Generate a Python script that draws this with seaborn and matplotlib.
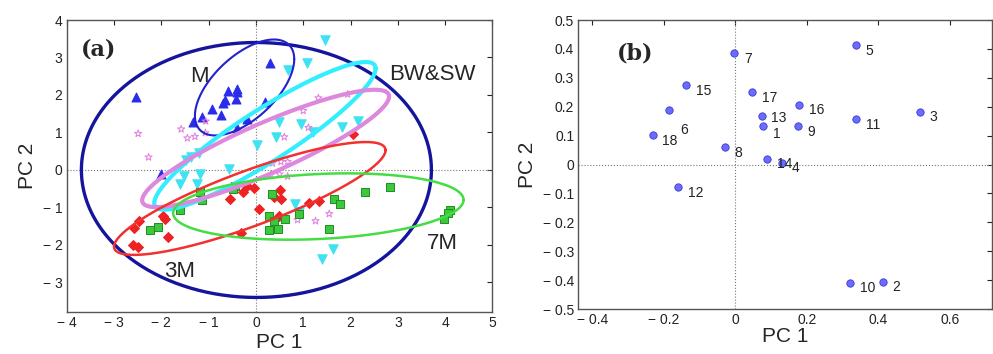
import numpy as np
import pandas as pd
import matplotlib
matplotlib.use("Agg")
import matplotlib.pyplot as plt
import seaborn as sns

# ---------------- Panel (a) data: PCA scores per group ----------------
m_x = [-2.53, 0.30, -0.59, -0.39, -0.41, -0.65, -0.69, -0.42, -0.93, -0.73, -1.13, -1.33, -0.18, 0.19, -0.39, -2.01]
m_y = [1.95, 2.85, 2.11, 2.17, 2.08, 1.86, 1.79, 1.89, 1.63, 1.46, 1.42, 1.28, 1.37, 1.82, 1.12, -0.11]

bw_x = [1.45, 1.08, 0.67, 0.48, 0.95, 1.20, 0.42, 0.02, 1.83, 2.15, -1.20, -1.38, -1.48, -0.57, -1.53, -1.18, -1.61, -1.25, 0.82, 0.92, 1.63, 1.40]
bw_y = [3.46, 2.86, 2.66, 1.28, 1.22, 1.02, 0.87, 0.66, 1.15, 1.31, 0.46, 0.34, 0.27, 0.02, -0.16, -0.12, -0.37, -0.37, -0.90, -1.11, -2.11, -2.37]

sw_x = [-2.49, -1.58, -1.06, -1.45, -1.29, -1.07, -2.27, 1.32, 1.00, 1.11, 0.60, 1.94, 0.35, 0.53, 0.67, 0.31, 0.50, 0.67, 1.55, 1.26, 0.88]
sw_y = [0.97, 1.09, 1.30, 0.85, 0.89, 0.99, 0.34, 1.92, 1.58, 1.13, 0.88, 2.02, 0.18, 0.22, 0.22, -0.13, -0.11, -0.17, -1.17, -1.36, -1.33]

m3_x = [-2.47, -2.58, -1.96, -1.92, -1.85, -2.60, -2.49, -0.18, -0.04, -0.27, -0.54, 0.06, -0.32, 0.51, 0.39, 0.53, 0.49, 1.13, 1.34, 2.05]
m3_y = [-1.36, -1.55, -1.24, -1.30, -1.80, -1.99, -2.05, -0.42, -0.49, -0.58, -0.77, -1.05, -1.68, -0.54, -0.71, -0.77, -1.22, -0.87, -0.84, 0.95]

m7_x = [-0.44, -0.49, -1.18, -1.13, -1.60, -2.25, -2.07, 0.35, 0.27, 0.39, 0.61, 0.92, 0.27, 0.47, 1.66, 1.78, 1.54, 2.31, 2.84, 4.11, 4.06, 3.97]
m7_y = [-0.42, -0.51, -0.58, -0.80, -1.08, -1.59, -1.52, -0.63, -1.22, -1.37, -1.31, -1.18, -1.60, -1.58, -0.78, -0.91, -1.58, -0.60, -0.46, -1.06, -1.15, -1.31]

# confidence ellipses: centre x, centre y, half-width, half-height, correlation
ell_names = ["all", "M", "BW&SW", "SW", "3M", "7M"]
ell_cx = [0.01, -0.24, 0.19, 0.205, -0.13, 1.32]
ell_cy = [0.00, 2.20, 0.91, 0.575, -0.76, -0.975]
ell_hx = [3.70, 1.05, 2.34, 2.61, 2.87, 3.07]
ell_hy = [3.40, 1.28, 1.97, 1.565, 1.505, 0.885]
ell_r = [0.0, 0.59, 0.911, 0.885, 0.854, 0.20]

xa_ticks = [-4, -3, -2, -1, 0, 1, 2, 3, 4, 5]
xa_labels = ["\u2212 4", "\u2212 3", "\u2212 2", "\u2212 1", "0", "1", "2", "3", "4", "5"]
ya_ticks = [-3, -2, -1, 0, 1, 2, 3, 4]
ya_labels = ["\u2212 3", "\u2212 2", "\u2212 1", "0", "1", "2", "3", "4"]

# ---------------- Panel (b) data: loadings ----------------
b_labels = ["1", "2", "3", "4", "5", "6", "7", "8", "9", "10", "11", "12", "13", "14", "15", "16", "17", "18"]
b_x = [0.077, 0.412, 0.517, 0.131, 0.337, -0.185, -0.003, -0.029, 0.175, 0.321, 0.337, -0.159, 0.074, 0.090, -0.138, 0.178, 0.048, -0.231]
b_y = [0.133, -0.405, 0.182, 0.006, 0.413, 0.1875, 0.386, 0.060, 0.133, -0.409, 0.156, -0.079, 0.168, 0.020, 0.274, 0.207, 0.251, 0.101]

xb_ticks = [-0.4, -0.2, 0, 0.2, 0.4, 0.6]
xb_labels = ["\u2212 0.4", "\u2212 0.2", "0", "0.2", "0.4", "0.6"]
yb_ticks = [-0.5, -0.4, -0.3, -0.2, -0.1, 0, 0.1, 0.2, 0.3, 0.4, 0.5]
yb_labels = ["\u2212 0.5", "\u2212 0.4", "\u2212 0.3", "\u2212 0.2", "\u2212 0.1", "0", "0.1", "0.2", "0.3", "0.4", "0.5"]

# ---------------- style ----------------
sns.set_style("white")
plt.rcParams["font.family"] = ["Liberation Sans", "DejaVu Sans"]
plt.rcParams["axes.edgecolor"] = "#555555"
plt.rcParams["axes.linewidth"] = 1.0

fig = plt.figure(figsize=(9.93, 3.54), dpi=100)
axa = fig.add_axes([0.0672, 0.1195, 0.4287, 0.824])
axb = fig.add_axes([0.5824, 0.127, 0.4166, 0.8165])

# ---------------- Panel (a) ----------------
axa.axhline(0, color="#777777", lw=0.8, ls=":", zorder=1)
axa.axvline(0, color="#777777", lw=0.8, ls=":", zorder=1)

groups = [
    ("M", m_x, m_y, "^", "#2b2bea", "#2b2bea", 42),
    ("BW&SW", bw_x, bw_y, "v", "#3ee2f2", "#3ee2f2", 46),
    ("SW", sw_x, sw_y, "*", "none", "#e07ee0", 30),
    ("3M", m3_x, m3_y, "D", "#ee2222", "#ee2222", 26),
    ("7M", m7_x, m7_y, "s", "#3cc83c", "#1f8f1f", 40),
]
for name, gx, gy, mk, fc, ec, s in groups:
    df = pd.DataFrame({"x": gx, "y": gy})
    sns.scatterplot(data=df, x="x", y="y", ax=axa, marker=mk, s=s,
                    facecolor=fc, edgecolor=ec, linewidth=0.7, zorder=3, legend=False)

ell_colors = ["#14149c", "#2222cc", "#33eeff", "#dd88dd", "#f23030", "#44dd44"]
ell_lw = [2.4, 1.5, 3.0, 3.0, 1.8, 1.8]
t = np.linspace(0, 2 * np.pi, 400)
for cx, cy, hx, hy, r, col, lw in zip(ell_cx, ell_cy, ell_hx, ell_hy, ell_r, ell_colors, ell_lw):
    ex = cx + hx * np.cos(t)
    ey = cy + hy * (r * np.cos(t) + np.sqrt(1 - r * r) * np.sin(t))
    axa.plot(ex, ey, color=col, lw=lw, zorder=4)

axa.set_xlim(-4, 5)
axa.set_ylim(-3.78, 4)
axa.set_xticks(xa_ticks)
axa.set_xticklabels(xa_labels)
axa.set_yticks(ya_ticks)
axa.set_yticklabels(ya_labels)
axa.set_xlabel("PC 1", fontsize=15, labelpad=2)
axa.set_ylabel("PC 2", fontsize=15, labelpad=4)

axa.text(-3.32, 3.22, "(a)", fontsize=16, fontweight="bold", family=["DejaVu Serif"],
         ha="center", va="center", zorder=6)
axa.text(-1.2, 2.5, "M", fontsize=16, ha="center", va="center", zorder=6)
axa.text(3.74, 2.55, "BW&SW", fontsize=16, ha="center", va="center", zorder=6)
axa.text(-1.62, -2.71, "3M", fontsize=16, ha="center", va="center", zorder=6)
axa.text(3.95, -1.95, "7M", fontsize=16, ha="center", va="center", zorder=6)

# ---------------- Panel (b) ----------------
axb.axhline(0, color="#777777", lw=0.8, ls=":", zorder=1)
axb.axvline(0, color="#777777", lw=0.8, ls=":", zorder=1)
dfb = pd.DataFrame({"x": b_x, "y": b_y, "label": b_labels})
sns.scatterplot(data=dfb, x="x", y="y", ax=axb, marker="o", s=28,
                color="#6b6bff", edgecolor="#3a3ad0", linewidth=0.6, zorder=3, legend=False)
special = {"6": (8, -14), "13": (7, -1.5), "1": (7, -6)}
for lx, ly, lab in zip(b_x, b_y, b_labels):
    off = special.get(lab, (7, -4))
    axb.annotate(lab, (lx, ly), xytext=off, textcoords="offset points",
                 fontsize=10, ha="left", va="center", color="#222222", zorder=5)

axb.set_xlim(-0.439, 0.718)
axb.set_ylim(-0.5, 0.5)
axb.set_xticks(xb_ticks)
axb.set_xticklabels(xb_labels)
axb.set_yticks(yb_ticks)
axb.set_yticklabels(yb_labels)
axb.set_xlabel("PC 1", fontsize=15, labelpad=0)
axb.set_ylabel("PC 2", fontsize=15, labelpad=4)
axb.text(-0.28, 0.385, "(b)", fontsize=16, fontweight="bold", family=["DejaVu Serif"],
         ha="center", va="center", zorder=6)

for ax in (axa, axb):
    ax.tick_params(direction="in", length=3.5, width=0.8, top=True, right=True,
                   labelsize=10, colors="#222222", pad=3)
    for sp in ax.spines.values():
        sp.set_color("#555555")
        sp.set_visible(True)

fig.savefig("out.png", dpi=100)
